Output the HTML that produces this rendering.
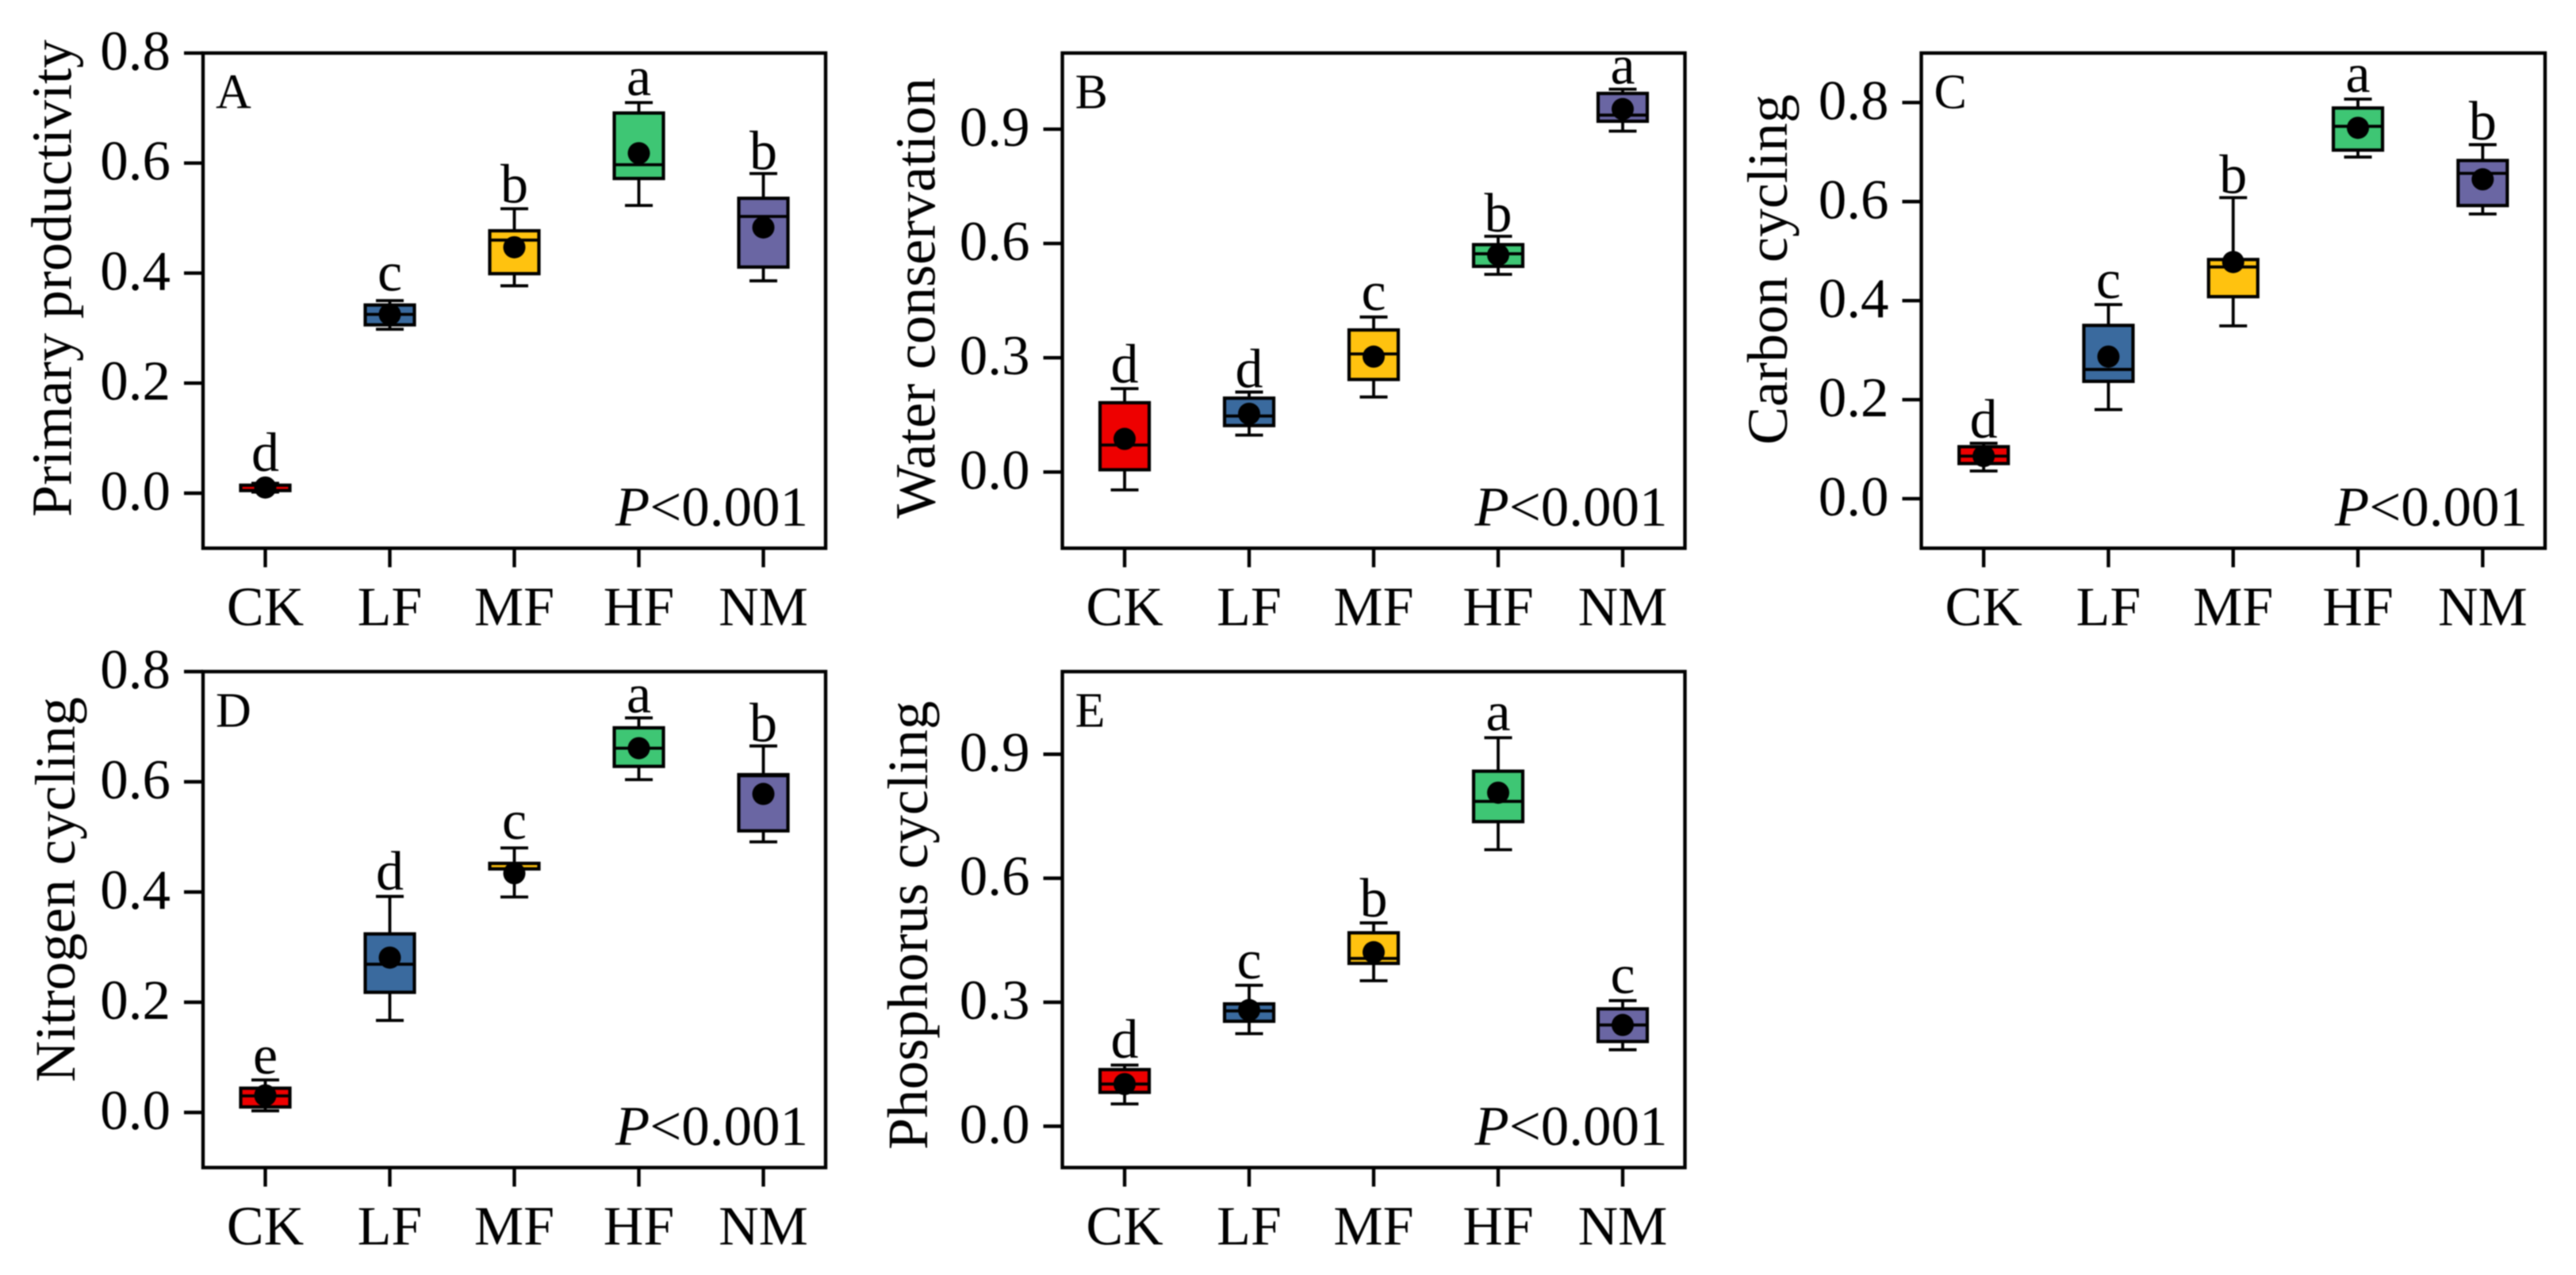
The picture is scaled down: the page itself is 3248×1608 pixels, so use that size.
<!DOCTYPE html>
<html lang="en">
<head>
<meta charset="utf-8">
<title>Boxplots of ecosystem functions</title>
<style>
html,body{margin:0;padding:0;background:#fff;}
svg{display:block;filter:blur(0.8px);}
text{font-family:"Liberation Serif",serif;fill:#000;}
</style>
</head>
<body>
<svg id="figure" xmlns="http://www.w3.org/2000/svg" width="3248" height="1608" viewBox="0 0 3248 1608">
<rect width="3248" height="1608" fill="#fff"/>
</svg>
<script>
const categories = ['CK', 'LF', 'MF', 'HF', 'NM'];
const boxColors = ['#ee0000', '#3a6a9e', '#ffc20f', '#3ec674', '#6a66a3'];

// Panel A: Primary productivity
const aTicks = ['0.0', '0.2', '0.4', '0.6', '0.8'];
const aDomain = [-0.1, 0.8];
const aWhiskerHigh = [0.018, 0.350, 0.517, 0.710, 0.581];
const aQ3 = [0.0145, 0.342, 0.477, 0.691, 0.536];
const aMedian = [0.0145, 0.325, 0.460, 0.597, 0.503];
const aQ1 = [0.0048, 0.306, 0.399, 0.572, 0.411];
const aWhiskerLow = [0.002, 0.298, 0.377, 0.523, 0.386];
const aMean = [0.0103, 0.325, 0.447, 0.618, 0.483];
const aLetters = ['d', 'c', 'b', 'a', 'b'];
const aLetterLevel = [0.042, 0.370, 0.530, 0.725, 0.590];

// Panel B: Water conservation
const bTicks = ['0.0', '0.3', '0.6', '0.9'];
const bDomain = [-0.2, 1.1];
const bWhiskerHigh = [0.219, 0.210, 0.407, 0.619, 1.005];
const bQ3 = [0.182, 0.194, 0.373, 0.597, 0.994];
const bMedian = [0.071, 0.147, 0.310, 0.573, 0.937];
const bQ1 = [0.006, 0.122, 0.243, 0.540, 0.921];
const bWhiskerLow = [-0.047, 0.097, 0.197, 0.519, 0.895];
const bMean = [0.087, 0.153, 0.303, 0.570, 0.953];
const bLetters = ['d', 'd', 'c', 'b', 'a'];
const bLetterLevel = [0.237, 0.224, 0.427, 0.634, 1.022];

// Panel C: Carbon cycling
const cTicks = ['0.0', '0.2', '0.4', '0.6', '0.8'];
const cDomain = [-0.1, 0.9];
const cWhiskerHigh = [0.112, 0.392, 0.608, 0.807, 0.715];
const cQ3 = [0.105, 0.350, 0.483, 0.789, 0.683];
const cMedian = [0.086, 0.261, 0.468, 0.752, 0.657];
const cQ1 = [0.071, 0.237, 0.408, 0.704, 0.592];
const cWhiskerLow = [0.056, 0.180, 0.349, 0.690, 0.575];
const cMean = [0.086, 0.287, 0.478, 0.749, 0.645];
const cLetters = ['d', 'c', 'b', 'a', 'b'];
const cLetterLevel = [0.125, 0.407, 0.619, 0.823, 0.727];

// Panel D: Nitrogen cycling
const dTicks = ['0.0', '0.2', '0.4', '0.6', '0.8'];
const dDomain = [-0.1, 0.8];
const dWhiskerHigh = [0.059, 0.392, 0.480, 0.716, 0.665];
const dQ3 = [0.044, 0.324, 0.452, 0.698, 0.613];
const dMedian = [0.030, 0.269, 0.452, 0.661, 0.611];
const dQ1 = [0.010, 0.218, 0.442, 0.628, 0.511];
const dWhiskerLow = [0.003, 0.167, 0.391, 0.604, 0.491];
const dMean = [0.031, 0.281, 0.434, 0.661, 0.578];
const dLetters = ['e', 'd', 'c', 'a', 'b'];
const dLetterLevel = [0.072, 0.406, 0.498, 0.727, 0.675];

// Panel E: Phosphorus cycling
const eTicks = ['0.0', '0.3', '0.6', '0.9'];
const eDomain = [-0.1, 1.1];
const eWhiskerHigh = [0.148, 0.341, 0.492, 0.940, 0.304];
const eQ3 = [0.137, 0.296, 0.468, 0.859, 0.284];
const eMedian = [0.102, 0.279, 0.406, 0.786, 0.245];
const eQ1 = [0.082, 0.254, 0.394, 0.737, 0.205];
const eWhiskerLow = [0.054, 0.224, 0.352, 0.669, 0.185];
const eMean = [0.102, 0.281, 0.421, 0.807, 0.245];
const eLetters = ['d', 'c', 'b', 'a', 'c'];
const eLetterLevel = [0.168, 0.359, 0.509, 0.960, 0.324];

const NS = 'http://www.w3.org/2000/svg';
const figure = document.getElementById('figure');

function make(parent, tag, props, text) {
  const el = document.createElementNS(NS, tag);
  for (const k in props) el.setAttribute(k, props[k]);
  if (text !== undefined) el.textContent = text;
  parent.appendChild(el);
  return el;
}

function drawPanel(p) {
  const g = make(figure, 'g', {});
  
  

  const xScale = i => p.left + (i + 0.5) * (p.right - p.left) / categories.length;
  const yScale = v => p.bottom - (v - p.domain[0]) / (p.domain[1] - p.domain[0]) * (p.bottom - p.top);

  // y ticks and labels
  p.ticks.forEach(label => {
    const y = yScale(parseFloat(label));
    const tick = make(g, 'line', {x1: p.left - 24, x2: p.left, y1: y, y2: y, stroke: '#000', 'stroke-width': 4.4});
    
    
    const t = make(g, 'text', {x: p.left - 41, y: y + 21, 'font-size': 71, 'text-anchor': 'end'}, label);
    
    
  });

  // x ticks and labels
  categories.forEach((c, i) => {
    const x = xScale(i);
    const tick = make(g, 'line', {x1: x, x2: x, y1: p.bottom, y2: p.bottom + 24, stroke: '#000', 'stroke-width': 4.4});
    
    
    const t = make(g, 'text', {x: x, y: p.bottom + 97, 'font-size': 70, 'text-anchor': 'middle'}, c);
    
    
  });

  // boxes
  categories.forEach((c, i) => {
    const x = xScale(i);
    const box = make(g, 'g', {});
    
    
    const capHalf = 17.5, boxHalf = 31;
    const whisker = {stroke: '#000', 'stroke-width': 3.8};
    make(box, 'line', {x1: x, x2: x, y1: yScale(p.whiskerHigh[i]), y2: yScale(p.q3[i]), ...whisker});
    make(box, 'line', {x1: x, x2: x, y1: yScale(p.q1[i]), y2: yScale(p.whiskerLow[i]), ...whisker});
    make(box, 'line', {x1: x - capHalf, x2: x + capHalf, y1: yScale(p.whiskerHigh[i]), y2: yScale(p.whiskerHigh[i]), ...whisker});
    make(box, 'line', {x1: x - capHalf, x2: x + capHalf, y1: yScale(p.whiskerLow[i]), y2: yScale(p.whiskerLow[i]), ...whisker});
    make(box, 'rect', {x: x - boxHalf, width: 2 * boxHalf, y: yScale(p.q3[i]), height: yScale(p.q1[i]) - yScale(p.q3[i]), fill: boxColors[i], stroke: '#000', 'stroke-width': 4.2});
    make(box, 'line', {x1: x - boxHalf, x2: x + boxHalf, y1: yScale(p.median[i]), y2: yScale(p.median[i]), ...whisker});
    make(box, 'circle', {cx: x, cy: yScale(p.mean[i]), r: 14, fill: '#000'});
    const letter = make(g, 'text', {x: x, y: yScale(p.letterLevel[i]) + 1, 'font-size': 70, 'text-anchor': 'middle'}, p.letters[i]);
    
    
  });

  // frame on top
  const frame = make(g, 'rect', {x: p.left, y: p.top, width: p.right - p.left, height: p.bottom - p.top, fill: 'none', stroke: '#000', 'stroke-width': 4.4});
  
  

  // panel letter
  const pl = make(g, 'text', {x: p.left + 16, y: p.top + 69.5, 'font-size': 62}, p.id);
  
  

  // P value
  const pv = make(g, 'text', {x: p.right - 22, y: p.bottom - 28.5, 'font-size': 71, 'text-anchor': 'end'});
  
  
  make(pv, 'tspan', {'font-style': 'italic'}, 'P');
  make(pv, 'tspan', {}, '<0.001');

  // y axis title
  const yt = make(g, 'text', {transform: 'translate(' + p.titleX + ',' + p.titleY + ') rotate(-90)', 'font-size': 72, 'text-anchor': 'middle'}, p.title);
  
  
}

drawPanel({id: 'A', title: 'Primary productivity', left: 256, right: 1041, top: 66.9, bottom: 691.4, titleX: 89.5, titleY: 351,
  domain: aDomain, ticks: aTicks, whiskerHigh: aWhiskerHigh, q3: aQ3, median: aMedian, q1: aQ1, whiskerLow: aWhiskerLow, mean: aMean, letters: aLetters, letterLevel: aLetterLevel});
drawPanel({id: 'B', title: 'Water conservation', left: 1339.5, right: 2124.5, top: 66.9, bottom: 691.4, titleX: 1178.5, titleY: 376,
  domain: bDomain, ticks: bTicks, whiskerHigh: bWhiskerHigh, q3: bQ3, median: bMedian, q1: bQ1, whiskerLow: bWhiskerLow, mean: bMean, letters: bLetters, letterLevel: bLetterLevel});
drawPanel({id: 'C', title: 'Carbon cycling', left: 2422.5, right: 3209, top: 66.9, bottom: 691.4, titleX: 2253, titleY: 340,
  domain: cDomain, ticks: cTicks, whiskerHigh: cWhiskerHigh, q3: cQ3, median: cMedian, q1: cQ1, whiskerLow: cWhiskerLow, mean: cMean, letters: cLetters, letterLevel: cLetterLevel});
drawPanel({id: 'D', title: 'Nitrogen cycling', left: 256, right: 1041, top: 847, bottom: 1472.5, titleX: 94, titleY: 1122,
  domain: dDomain, ticks: dTicks, whiskerHigh: dWhiskerHigh, q3: dQ3, median: dMedian, q1: dQ1, whiskerLow: dWhiskerLow, mean: dMean, letters: dLetters, letterLevel: dLetterLevel});
drawPanel({id: 'E', title: 'Phosphorus cycling', left: 1339.5, right: 2124.5, top: 847, bottom: 1472.5, titleX: 1169, titleY: 1167,
  domain: eDomain, ticks: eTicks, whiskerHigh: eWhiskerHigh, q3: eQ3, median: eMedian, q1: eQ1, whiskerLow: eWhiskerLow, mean: eMean, letters: eLetters, letterLevel: eLetterLevel});
</script>
</body>
</html>
